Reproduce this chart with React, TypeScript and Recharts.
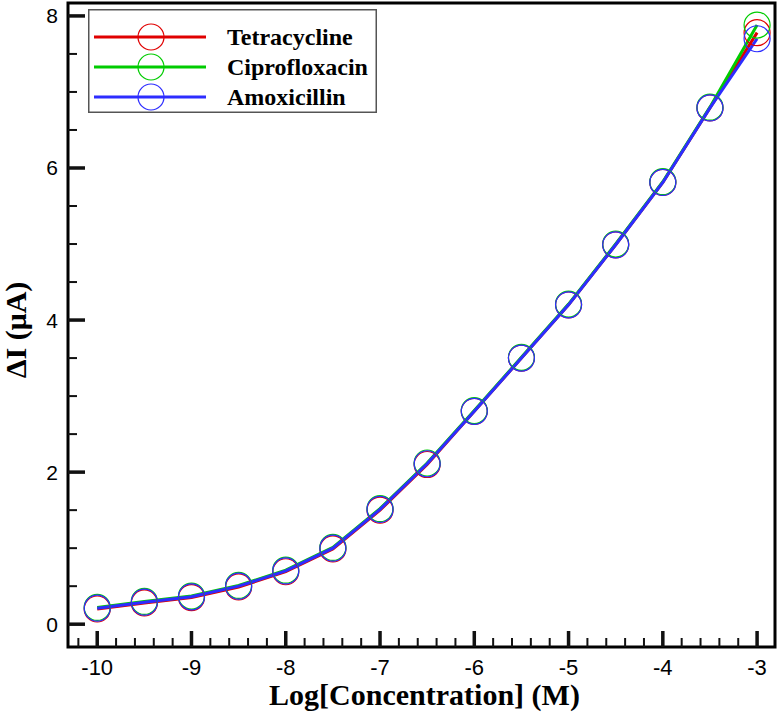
import React from 'react';
import { LineChart, Line, XAxis, YAxis, ReferenceArea, Legend, Label } from 'recharts';

// ---- data ----
const concentration = [-10, -9.5, -9, -8.5, -8, -7.5, -7, -6.5, -6, -5.5, -5, -4.5, -4, -3.5, -3];
const tetracycline = [0.2, 0.28, 0.35, 0.49, 0.69, 0.99, 1.5, 2.1, 2.8, 3.5, 4.2, 4.99, 5.81, 6.79, 7.78];
const ciprofloxacin = [0.22, 0.3, 0.37, 0.51, 0.71, 1.01, 1.52, 2.12, 2.81, 3.51, 4.21, 5.0, 5.82, 6.8, 7.88];
const amoxicillin = [0.21, 0.29, 0.36, 0.5, 0.7, 1.0, 1.51, 2.11, 2.8, 3.5, 4.2, 4.99, 5.81, 6.79, 7.7];

const seriesNames = ['Tetracycline', 'Ciprofloxacin', 'Amoxicillin'];
const seriesKeys = ['tet', 'cip', 'amo'];
const seriesColors = ['#e00000', '#00cc00', '#2d2dff'];

const xMajorTicks = [-10, -9, -8, -7, -6, -5, -4, -3];
const yMajorTicks = [0, 2, 4, 6, 8];
const xMinorStep = 0.2;
const yMinorStep = 0.5;

const xDomain: [number, number] = [-10.31, -2.81];
const yDomain: [number, number] = [-0.3, 8.17];

// layout
const W = 779;
const H = 719;
const MARGIN = { top: 3, right: 4, bottom: 12, left: 10 };
const Y_AXIS_W = 58;
const X_AXIS_H = 60;
const PLOT_LEFT = MARGIN.left + Y_AXIS_W;
const PLOT_RIGHT = W - MARGIN.right;
const PLOT_TOP = MARGIN.top;
const PLOT_BOTTOM = H - MARGIN.bottom - X_AXIS_H;

const data = concentration.map((c, i) => ({
  x: c,
  tet: tetracycline[i],
  cip: ciprofloxacin[i],
  amo: amoxicillin[i],
}));

const buildTicks = (lo: number, hi: number, step: number) => {
  const out: number[] = [];
  const start = Math.ceil(lo / step - 1e-9);
  const end = Math.floor(hi / step + 1e-9);
  for (let k = start; k <= end; k++) out.push(Math.round(k * step * 100) / 100);
  return out;
};
const xAllTicks = buildTicks(xDomain[0], xDomain[1], xMinorStep);
const yAllTicks = buildTicks(0, yDomain[1], yMinorStep);
const isMajor = (list: number[], v: number) => list.some((t) => Math.abs(t - v) < 1e-6);

const SANS = '"Liberation Sans", Arial, sans-serif';
const SERIF = '"Liberation Serif", "Times New Roman", serif';

const renderXTick = (props: any) => {
  const { x, payload } = props;
  const v = payload.value;
  const major = isMajor(xMajorTicks, v);
  const len = major ? 16 : 9;
  const w = major ? 3.5 : 2;
  return (
    <g>
      <rect x={x - w / 2} y={PLOT_BOTTOM - len} width={w} height={len} fill="#111" />
      {major && (
        <text x={x} y={PLOT_BOTTOM + 28} textAnchor="middle" fontFamily={SANS} fontSize={22} fill="#000">
          {String(v)}
        </text>
      )}
    </g>
  );
};

const renderYTick = (props: any) => {
  const { y, payload } = props;
  const v = payload.value;
  const major = isMajor(yMajorTicks, v);
  const len = major ? 17 : 9;
  const w = major ? 3.5 : 2;
  return (
    <g>
      <rect x={PLOT_LEFT} y={y - w / 2} width={len} height={w} fill="#111" />
      {major && (
        <text x={PLOT_LEFT - 10} y={y + 7.5} textAnchor="end" fontFamily={SANS} fontSize={21} fill="#000">
          {String(v)}
        </text>
      )}
    </g>
  );
};

const XLabel = () => (
  <text x={PLOT_LEFT + (PLOT_RIGHT - PLOT_LEFT) / 2 + 3} y={PLOT_BOTTOM + 58} textAnchor="middle" fontFamily={SERIF} fontWeight="bold" fontSize={30} fill="#000">
    Log[Concentration] (M)
  </text>
);

const YLabel = () => {
  const cx = MARGIN.left + 16;
  const cy = (PLOT_TOP + PLOT_BOTTOM) / 2 + 5;
  return (
    <text x={cx} y={cy} transform={`rotate(-90, ${cx}, ${cy})`} textAnchor="middle" fontFamily={SERIF} fontWeight="bold" fontSize={30} fill="#000">
      ΔI (μA)
    </text>
  );
};

const LegendBox = () => (
  <svg width={289} height={104} style={{ display: 'block' }}>
    <rect x={0.75} y={0.75} width={287.5} height={102.5} fill="#fff" stroke="#555" strokeWidth={1.5} />
    {seriesNames.map((name, i) => {
      const cy = 28 + i * 30;
      return (
        <g key={name}>
          <line x1={6} x2={118} y1={cy} y2={cy} stroke={seriesColors[i]} strokeWidth={3} />
          <circle cx={63} cy={cy} r={13} fill="none" stroke={seriesColors[i]} strokeWidth={1.2} />
          <text x={139} y={cy + 8} fontFamily={SERIF} fontWeight="bold" fontSize={24} fill="#000">
            {name}
          </text>
        </g>
      );
    })}
  </svg>
);

export default function App() {
  return (
    <div style={{ position: 'absolute', left: 0, top: 0, width: W, height: H, background: '#fff' }}>
      <LineChart width={W} height={H} data={data} margin={MARGIN}>
        <XAxis dataKey="x" type="number" domain={xDomain} allowDataOverflow ticks={xAllTicks} interval={0} tick={renderXTick} tickLine={false} axisLine={false} height={X_AXIS_H}>
          <Label content={() => <XLabel />} />
        </XAxis>
        <YAxis type="number" domain={yDomain} allowDataOverflow ticks={yAllTicks} interval={0} tick={renderYTick} tickLine={false} axisLine={false} width={Y_AXIS_W}>
          <Label content={() => <YLabel />} />
        </YAxis>
        <ReferenceArea x1={xDomain[0]} x2={xDomain[1]} y1={yDomain[0]} y2={yDomain[1]} fill="none" fillOpacity={0} stroke="#000" strokeWidth={3} ifOverflow="visible" />
        {seriesKeys.map((k, i) => (
          <Line key={k} type="linear" dataKey={k} name={seriesNames[i]} stroke={seriesColors[i]} strokeWidth={3} dot={{ r: 13, stroke: seriesColors[i], strokeWidth: 1.2, fill: 'none' }} activeDot={false} isAnimationActive={false} />
        ))}
        <Legend layout="horizontal" verticalAlign="middle" align="center" wrapperStyle={{ position: 'absolute', left: 88, top: 9, width: 289, height: 104 }} content={() => <LegendBox />} />
      </LineChart>
    </div>
  );
}
